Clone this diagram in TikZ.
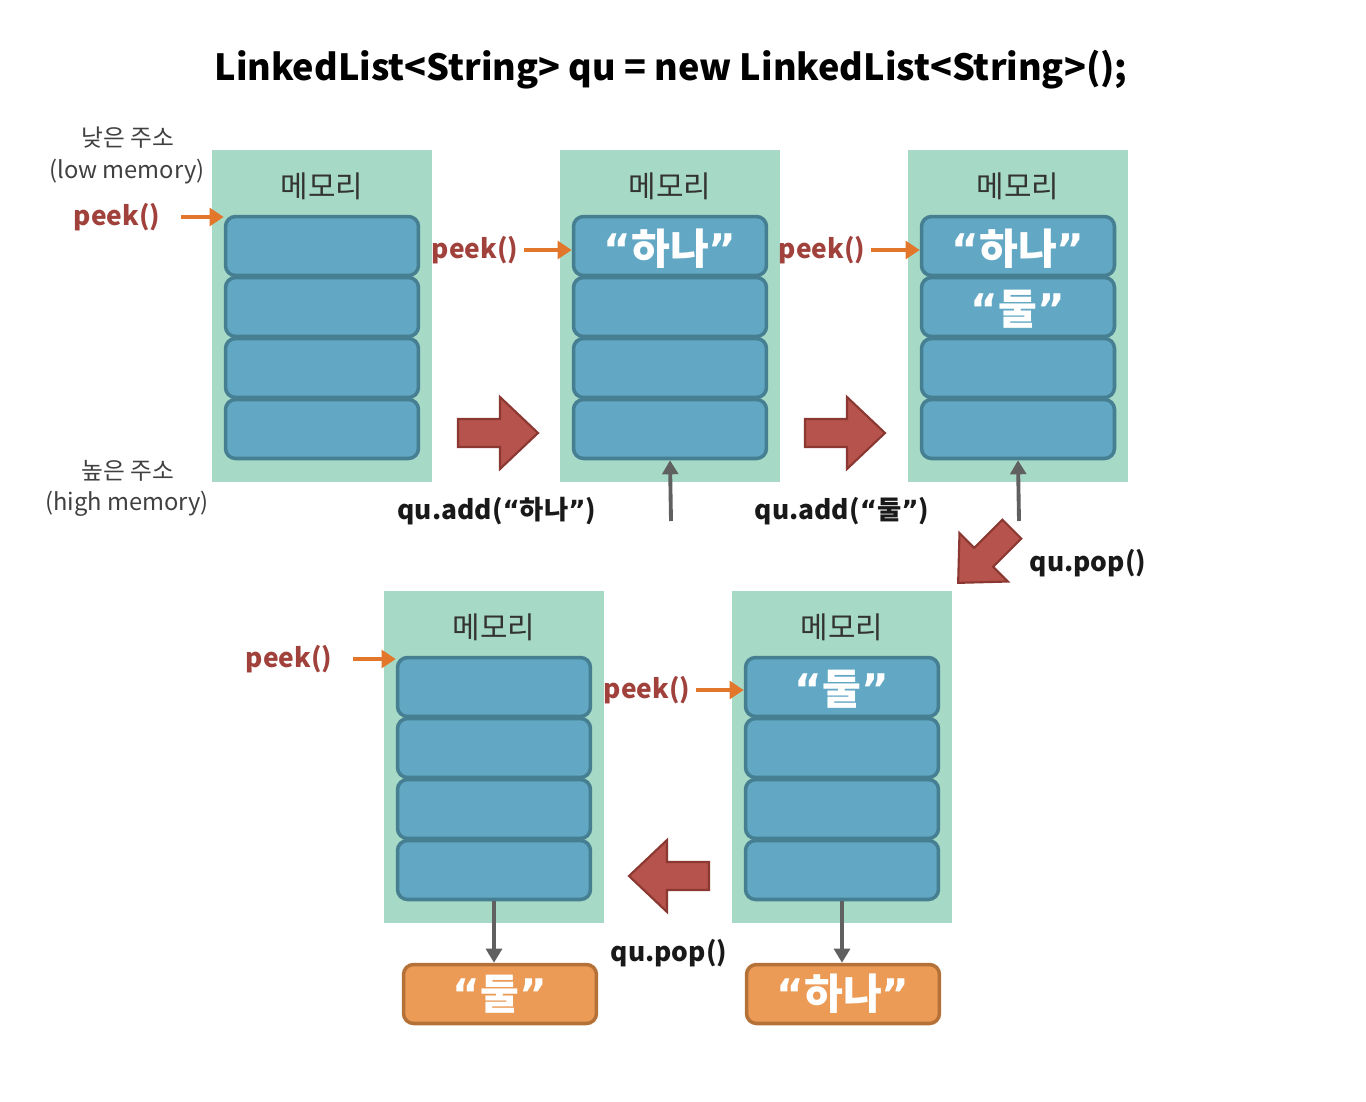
\documentclass[tikz,border=0pt]{standalone}
\usepackage{fontspec}
\setmainfont{Noto Sans CJK KR}
\newfontfamily\quotefont{DejaVu Sans}
\newcommand\quoted[1]{{\quotefont “}#1{\quotefont ”}}
\usetikzlibrary{arrows.meta}
\definecolor{panelgreen}{HTML}{A6DAC6}
\definecolor{cellblue}{HTML}{62A8C4}
\definecolor{cellline}{HTML}{467E92}
\definecolor{outfill}{HTML}{EB9B55}
\definecolor{outline}{HTML}{B47238}
\definecolor{peekred}{HTML}{A0413B}
\definecolor{peekline}{HTML}{E2762A}
\definecolor{bigred}{HTML}{B5534C}
\definecolor{bigline}{HTML}{8B3732}
\definecolor{feedgray}{HTML}{606060}

\begin{document}
\begin{tikzpicture}
    [x=0.02cm, y=-0.02cm,
    panel/.style={fill=panelgreen, inner sep=0pt, minimum width=4.4cm, minimum height=6.64cm},
    cell/.style={draw=cellline, fill=cellblue, line width=2pt, rounded corners=0.2cm,
        inner sep=0pt, minimum width=3.86cm, minimum height=1.18cm},
    value/.style={text=white, font=\bfseries\fontsize{24}{24}\selectfont},
    outbox/.style={cell, draw=outline, fill=outfill, value},
    memlabel/.style={text=black!80, font=\fontsize{17}{17}\selectfont},
    side/.style={text=black!75, font=\fontsize{13.5}{13.5}\selectfont},
    op/.style={text=black!90, font=\bfseries\fontsize{15}{15}\selectfont},
    peek/.style={text=peekred, font=\bfseries\fontsize{15}{15}\selectfont},
    peekarrow/.style={draw=peekline, line width=2.1pt, -{Triangle[length=8pt, width=10pt]}},
    feed/.style={draw=feedgray, line width=2.2pt, -{Triangle[length=8pt, width=9pt]}},
    bigarrow/.pic={\draw[fill=bigred, draw=bigline, line width=1.2pt]
        (-40,-14) -- (2,-14) -- (2,-36) -- (40,0) -- (2,36) -- (2,14) -- (-40,14) -- cycle;}]
    \useasboundingbox (0,0) rectangle (1366,1102);

    \node[font=\bfseries\fontsize{20.5}{20.5}\selectfont] (decl) at (671,70)
        {LinkedList<String> qu = new LinkedList<String>();};

    % memory panels
    \foreach \p/\x/\y in {1/322/316, 2/670/316, 3/1018/316, 4/494/757, 5/842/757} {
        \node[panel] (m\p) at (\x,\y) {};
        \node[memlabel] (m\p-t) at (\x,\y-130) {메모리};
        \foreach \c in {1,...,4}
            \node[cell] (m\p-\c) at (\x,\y-131+61*\c) {};
    }

    % values
    \node[value] (v21) at ([yshift=-0.06cm]m2-1) {\quoted{하나}};
    \node[value] (v31) at ([yshift=-0.06cm]m3-1) {\quoted{하나}};
    \node[value] (v32) at ([yshift=-0.04cm]m3-2) {\quoted{둘}};
    \node[value] (v51) at ([yshift=-0.04cm]m5-1) {\quoted{둘}};

    \node[side] (lowk) at (128,138) {낮은 주소};
    \node[side] (lowe) at (127,172) {(low memory)};
    \node[side] (highk) at (128,471) {높은 주소};
    \node[side] (highe) at (127,504) {(high memory)};

    % peek
    \node[peek] (peek1) at (117,217) {peek()};
    \node[peek] (peek2) at (475,250) {peek()};
    \node[peek] (peek3) at (822,250) {peek()};
    \node[peek] (peek4) at (289,659) {peek()};
    \node[peek] (peek5) at (647,690) {peek()};
    \draw[peekarrow, shorten <=0.3cm] (peek1.east) -- (peek1 -| m1-1.west);
    \draw[peekarrow] (peek2.east) -- (peek2 -| m2-1.west);
    \draw[peekarrow] (peek3.east) -- (peek3 -| m3-1.west);
    \draw[peekarrow, shorten <=0.3cm] (peek4.east) -- (peek4 -| m4-1.west);
    \draw[peekarrow] (peek5.east) -- (peek5 -| m5-1.west);

    % operations
    \pic (step1) at (498,433) {bigarrow};
    \pic (step2) at (845,433) {bigarrow};
    \pic[rotate=225, scale=0.95] (step3) at (985,556) {bigarrow};
    \pic[rotate=180] (step4) at (669,876) {bigarrow};

    \node[op] (add1) at (497,511) {qu.add(\quoted{하나})};
    \node[op] (add2) at (842,511) {qu.add(\quoted{둘})};
    \node[op] (pop1) at (1088,563) {qu.pop()};
    \node[op] (pop2) at (669,953) {qu.pop()};

    \coordinate (push1) at (671,521);
    \coordinate (push2) at (1019,521);
    \draw[feed] (push1) -- (m2-4.south);
    \draw[feed] (push2) -- (m3-4.south);

    \node[outbox] (out1) at (500,994) {\quoted{둘}};
    \node[outbox] (out2) at (843,994) {\quoted{하나}};
    \draw[feed] (m4-4.south) -- (m4-4.south |- out1.north);
    \draw[feed] (m5-4.south) -- (m5-4.south |- out2.north);
\end{tikzpicture}
\end{document}
